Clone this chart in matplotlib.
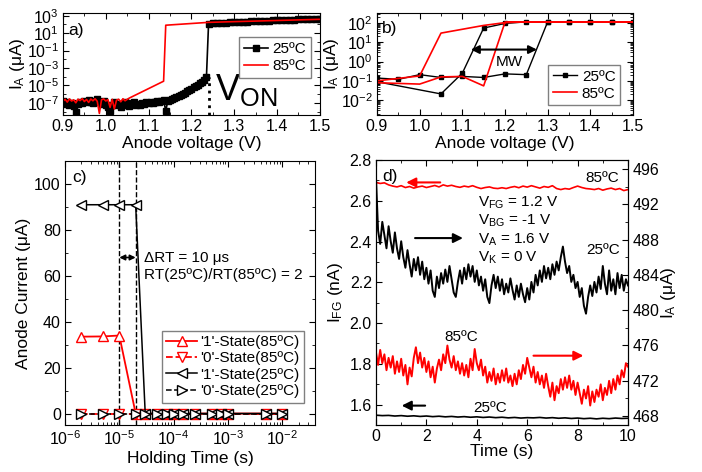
import numpy as np
import matplotlib
matplotlib.use('Agg')
import matplotlib.pyplot as plt
from matplotlib.ticker import MultipleLocator, FixedLocator, LogLocator, NullFormatter

plt.rcParams['font.family'] = ['Liberation Sans', 'DejaVu Sans']
plt.rcParams['mathtext.fontset'] = 'custom'
plt.rcParams['mathtext.rm'] = 'Liberation Sans'
plt.rcParams['mathtext.it'] = 'Liberation Sans:italic'
plt.rcParams['mathtext.default'] = 'regular'

# ---- a) DC sweep, I_A vs V_A (uA) ----
# 25C: off state (0.900 .. 1.235 V, 5 mV steps) then on state (1.24 .. 1.50 V, 10 mV steps)
ia25_off = [1.5e-7, 8e-8, 1.2e-7, 6e-8, 1.0e-7, 4e-8, 1e-8, 7e-8, 1.3e-7, 9e-8,
            1.8e-7, 1.1e-7, 2.2e-7, 1.4e-7, 9e-8, 1.6e-7, 2.5e-7, 1.2e-7, 7e-8, 1.5e-7,
            5e-8, 3e-8, 1.2e-8, 6e-8, 1.1e-7, 5e-8, 8e-8, 3e-8, 6e-8, 1.4e-7,
            9e-8, 4e-8, 7e-8, 1.1e-7, 5e-8, 8e-8, 6e-8, 1.0e-7, 7e-8, 1.2e-7,
            9e-8, 1.4e-7, 1.0e-7, 1.3e-7, 1.8e-7, 1.2e-7, 1.6e-7, 2e-7, 1.2e-8, 1.8e-7,
            2.2e-7, 2.8e-7, 3.5e-7, 4.5e-7, 6e-7, 8e-7, 1.1e-6, 1.5e-6, 2.1e-6, 3e-6,
            4.2e-6, 6e-6, 8.5e-6, 1.2e-5, 1.8e-5, 2.7e-5, 4.5e-5, 8e-5]
ia25_on = [120, 130, 138, 146, 155, 165, 175, 185, 195, 205, 215, 228, 240, 252,
           265, 278, 292, 305, 320, 335, 350, 365, 380, 400, 420, 440, 460]
va25_off = np.linspace(0.900, 1.235, len(ia25_off))
va25_on = np.linspace(1.24, 1.50, len(ia25_on))

# 85C: noisy off state up to 1.055 V, then a few measured points
ia85_off = [1.5e-7, 2.5e-7, 1.2e-7, 2.8e-7, 1.6e-7, 2.2e-7, 1.0e-7, 2.6e-7, 1.8e-7, 3.0e-7,
            1.4e-7, 2.4e-7, 1.1e-7, 2.7e-7, 1.7e-7, 2.9e-7, 1.5e-7, 6e-9, 2.2e-7, 2.8e-7,
            1.6e-7, 2.3e-7, 3e-8, 2.5e-7, 2e-8, 2.0e-7, 2.6e-7, 1.3e-7, 2.9e-7, 1.7e-7,
            2.5e-7, 3.5e-7]
va85_off = np.linspace(0.900, 1.055, len(ia85_off))
va85_on = [1.135, 1.14, 1.24, 1.50]
ia85_on = [3e-5, 80, 170, 380]
v_on = 1.24

# ---- b) hysteresis sweeps (uA) ----
vb25 = [0.9, 0.95, 1.0, 1.05, 1.1, 1.15, 1.2, 1.25, 1.3, 1.35, 1.4, 1.45, 1.5,
        1.45, 1.4, 1.35, 1.3, 1.25, 1.2, 1.15, 1.1, 1.05, 0.9]
ib25 = [0.14, 0.12, 0.21, 0.15, 0.17, 0.15, 0.23, 0.21, 115, 115, 115, 115, 115,
        115, 115, 115, 115, 115, 95, 55, 0.25, 0.021, 0.09]
vb85 = [0.9, 1.0, 1.05, 1.1, 1.15, 1.2, 1.25, 1.3, 1.35, 1.4, 1.45, 1.5,
        1.45, 1.4, 1.35, 1.3, 1.25, 1.2, 1.15, 1.05, 1.0, 0.9]
ib85 = [0.08, 0.068, 0.16, 0.17, 0.055, 110, 115, 115, 115, 115, 115, 115,
        115, 115, 115, 115, 115, 105, 75, 30, 0.18, 0.1]

# ---- c) retention vs holding time ----
hold_t = [2e-6, 5e-6, 1e-5, 2e-5, 3e-5, 5e-5, 7.5e-5, 1e-4, 1.5e-4, 2.5e-4,
          5e-4, 7.5e-4, 1e-3, 5e-3, 1e-2]
one_85 = [33.5, 33.6, 34, 0, 0, 0, 0, 0, 0, 0, 0, 0, 0, 0, 0]
zero_85 = [0, 0, 0, 0, 0, 0, 0, 0, 0, 0, 0, 0, 0, 0, 0]
one_25 = [91, 91, 91, 91, 0, 0, 0, 0, 0, 0, 0, 0, 0, 0, 0]
zero_25 = [0, 0, 0, 0, 0, 0, 0, 0, 0, 0, 0, 0, 0, 0, 0]
rt_marks = [1e-5, 2e-5]

# ---- d) stability vs time ----
ia25_t = [495.0, 489.0, 487.5, 490.0, 488.5, 487.0, 489.5, 487.8, 486.5, 488.8,
          487.0, 485.8, 487.8, 486.0, 484.8, 486.8, 485.2, 483.8, 485.8, 484.5,
          486.0, 484.0, 485.5, 483.5, 484.8, 483.0, 484.5, 482.2, 481.5, 483.8,
          482.5, 484.2, 483.0, 484.6, 483.2, 485.0, 483.5, 482.0, 481.5, 483.2,
          484.5, 483.0, 484.8, 483.5, 485.2, 483.8, 485.0, 483.2, 484.5, 482.8,
          483.8, 482.2, 483.5, 481.5, 480.8, 482.8, 484.0, 482.5, 483.8, 482.2,
          483.5, 481.8, 483.0, 482.0, 483.6, 482.3, 481.2, 482.8, 481.5, 483.0,
          481.8, 480.9, 482.5, 481.2, 483.2, 482.0, 484.0, 482.8, 484.5, 483.2,
          485.0, 483.6, 484.8, 483.5, 485.2, 484.0, 485.5, 484.5, 486.0, 487.2,
          485.5, 484.2, 485.0, 483.2, 484.0, 482.5, 483.2, 481.5, 482.5, 480.5,
          479.6, 481.5, 482.8, 481.6, 483.2, 482.0, 483.8, 482.4, 485.0, 483.0,
          481.8, 484.5, 482.2, 483.5, 481.8, 484.2, 482.5, 484.0, 482.2, 483.5,
          482.8]
ia85_t = [475.2, 473.8, 475.5, 474.0, 475.0, 473.2, 474.6, 473.5, 474.8, 472.8,
          474.2, 473.0, 474.5, 472.6, 473.8, 471.6, 473.5, 472.5, 474.6, 475.8,
          474.0, 475.2, 473.5, 474.6, 473.0, 474.2, 472.4, 473.6, 471.8, 473.4,
          474.4, 473.2, 475.0, 474.0, 476.0, 474.4, 473.5, 474.8, 473.2, 474.2,
          472.8, 474.0, 472.6, 473.8, 472.4, 474.5, 473.2, 475.6, 474.0, 473.2,
          474.4, 472.6, 473.6, 471.8, 473.0, 472.0, 473.4, 471.6, 472.8, 471.8,
          473.2, 472.0, 473.4, 471.8, 472.6, 471.4, 472.8, 471.6, 473.2, 472.2,
          473.8, 472.8, 474.6, 473.5, 472.4, 473.6, 471.8, 473.0, 471.6, 472.6,
          471.2, 472.8, 471.4, 470.2, 471.8, 469.8, 471.4, 470.6, 472.2, 471.0,
          472.4, 471.2, 472.6, 471.0, 472.0, 470.4, 471.8, 470.6, 469.4, 471.0,
          470.0, 471.4, 469.2, 470.8, 469.6, 471.0, 470.2, 471.6, 469.8, 471.2,
          470.4, 472.0, 470.6, 472.2, 471.0, 472.6, 471.6, 473.2, 472.4, 474.0,
          473.6]
ifg85_t = [2.690, 2.685, 2.688, 2.678, 2.672, 2.668, 2.674, 2.665, 2.670, 2.662,
           2.668, 2.672, 2.665, 2.670, 2.675, 2.668, 2.678, 2.672, 2.676, 2.670,
           2.666, 2.672, 2.668, 2.674, 2.666, 2.660, 2.665, 2.668, 2.662, 2.660,
           2.664, 2.660, 2.666, 2.670, 2.664, 2.672, 2.667, 2.674, 2.668, 2.662,
           2.670, 2.666, 2.674, 2.660, 2.655, 2.660, 2.657, 2.665, 2.672, 2.665,
           2.660, 2.658, 2.655, 2.660, 2.652, 2.658, 2.662, 2.655, 2.660, 2.650,
           2.655]
ifg25_t = [1.548, 1.546, 1.547, 1.544, 1.546, 1.543, 1.545, 1.542, 1.544, 1.541,
           1.543, 1.540, 1.542, 1.539, 1.541, 1.538, 1.540, 1.537, 1.539, 1.536,
           1.538, 1.535, 1.537, 1.534, 1.536, 1.535, 1.537, 1.534, 1.536, 1.533,
           1.535, 1.532, 1.534, 1.531, 1.533, 1.530, 1.533, 1.531, 1.534, 1.532,
           1.533]
bias_lines = ['V$_{FG}$ = 1.2 V', 'V$_{BG}$ = -1 V', 'V$_{A}$ = 1.6 V', 'V$_{K}$ = 0 V']

TICK_FS = 11.5
LABEL_FS = 12.5
LEG_FS = 11


def style_ticks(ax, right=True):
    ax.tick_params(which='both', direction='in', top=True, right=right,
                   labelsize=TICK_FS, pad=3)
    ax.tick_params(which='major', length=4, width=0.8)
    ax.tick_params(which='minor', length=2, width=0.6)


fig = plt.figure(figsize=(7.02, 4.72), dpi=100)

# ---------------- a) ----------------
ax_a = fig.add_axes([0.0897, 0.7564, 0.366, 0.216])
ax_a.plot(np.concatenate([va25_off, va25_on]), ia25_off + ia25_on, '-s', color='black',
          lw=1.2, ms=5, label='25ºC')
ax_a.plot(list(va85_off) + va85_on, ia85_off + ia85_on, '-', color='red', lw=1.2, label='85ºC')
ax_a.plot([v_on, v_on], [4e-9, 1e-4], ':', color='black', lw=2)
ax_a.set_yscale('log')
ax_a.set_xlim(0.9, 1.5)
ax_a.set_ylim(4e-9, 2e3)
ax_a.xaxis.set_major_locator(MultipleLocator(0.1))
ax_a.xaxis.set_minor_locator(MultipleLocator(0.05))
ax_a.yaxis.set_major_locator(FixedLocator([1e-7, 1e-5, 1e-3, 1e-1, 1e1, 1e3]))
ax_a.yaxis.set_minor_locator(FixedLocator([1e-8, 1e-6, 1e-4, 1e-2, 1e0, 1e2]))
ax_a.yaxis.set_minor_formatter(NullFormatter())
ax_a.xaxis.set_major_formatter(matplotlib.ticker.FormatStrFormatter('%.1f'))
style_ticks(ax_a)
ax_a.set_xlabel('Anode voltage (V)', fontsize=LABEL_FS, labelpad=1)
ax_a.set_ylabel('I$_{A}$ (μA)', fontsize=LABEL_FS, labelpad=0)
ax_a.text(0.02, 0.9, 'a)', transform=ax_a.transAxes, fontsize=LABEL_FS, va='top')
ax_a.text(1.255, 2.2e-7, 'V$_{ON}$', fontsize=26, va='baseline')
ax_a.legend(loc='upper right', bbox_to_anchor=(0.965, 0.76), fontsize=LEG_FS,
            fancybox=False, edgecolor='gray', framealpha=1, handlelength=1.6,
            borderpad=0.3, labelspacing=0.2, handletextpad=0.3, borderaxespad=0)

# ---------------- b) ----------------
ax_b = fig.add_axes([0.537, 0.7564, 0.3647, 0.216])
ax_b.plot(vb25, ib25, '-s', color='black', lw=1, ms=3.5, label='25ºC')
ax_b.plot(vb85, ib85, '-', color='red', lw=1.2, label='85ºC')
ax_b.set_yscale('log')
ax_b.set_xlim(0.9, 1.5)
ax_b.set_ylim(1.7e-3, 3.3e2)
ax_b.xaxis.set_major_locator(MultipleLocator(0.1))
ax_b.xaxis.set_minor_locator(MultipleLocator(0.05))
ax_b.yaxis.set_major_locator(LogLocator(base=10, numticks=10))
ax_b.yaxis.set_minor_locator(LogLocator(base=10, subs=np.arange(2, 10), numticks=10))
ax_b.yaxis.set_minor_formatter(NullFormatter())
ax_b.xaxis.set_major_formatter(matplotlib.ticker.FormatStrFormatter('%.1f'))
style_ticks(ax_b)
ax_b.set_xlabel('Anode voltage (V)', fontsize=LABEL_FS, labelpad=1)
ax_b.set_ylabel('I$_{A}$ (μA)', fontsize=LABEL_FS, labelpad=0)
ax_b.text(0.02, 0.92, 'b)', transform=ax_b.transAxes, fontsize=LABEL_FS, va='top')
ax_b.annotate('', xy=(1.12, 4.2), xytext=(1.275, 4.2),
              arrowprops=dict(arrowstyle='<|-|>', color='black', lw=1.5,
                              mutation_scale=12, shrinkA=0, shrinkB=0))
ax_b.text(1.21, 1.0, 'MW', fontsize=LEG_FS, ha='center', va='center')
ax_b.legend(loc='upper right', bbox_to_anchor=(0.95, 0.49), fontsize=LEG_FS,
            fancybox=False, edgecolor='gray', framealpha=1, handlelength=1.6,
            borderpad=0.3, labelspacing=0.2, handletextpad=0.3, borderaxespad=0)

# ---------------- c) ----------------
ax_c = fig.add_axes([0.0926, 0.0996, 0.356, 0.559])
for t in rt_marks:
    ax_c.axvline(t, color='black', ls='--', lw=1, zorder=1)
mk = dict(ms=7, mfc='white', mew=1)
ax_c.plot(hold_t, one_85, '-^', color='red', lw=1.3, label="'1'-State(85ºC)", **mk)
ax_c.plot(hold_t, zero_85, '--v', color='red', lw=1.3, label="'0'-State(85ºC)", **mk)
ax_c.plot(hold_t, one_25, '-<', color='black', lw=1.1, label="'1'-State(25ºC)", **mk)
ax_c.plot(hold_t, zero_25, '-->', color='black', lw=1.1, label="'0'-State(25ºC)", **mk)
ax_c.set_xscale('log')
ax_c.set_xlim(1e-6, 4e-2)
ax_c.set_ylim(-5, 110)
ax_c.xaxis.set_major_locator(LogLocator(base=10, numticks=10))
ax_c.xaxis.set_minor_locator(LogLocator(base=10, subs=np.arange(2, 10), numticks=10))
ax_c.xaxis.set_minor_formatter(NullFormatter())
ax_c.yaxis.set_major_locator(MultipleLocator(20))
ax_c.yaxis.set_minor_locator(MultipleLocator(10))
style_ticks(ax_c)
ax_c.set_xlabel('Holding Time (s)', fontsize=LABEL_FS, labelpad=2)
ax_c.set_ylabel('Anode Current (μA)', fontsize=LABEL_FS, labelpad=2)
ax_c.text(0.03, 0.965, 'c)', transform=ax_c.transAxes, fontsize=LABEL_FS, va='top')
ax_c.annotate('', xy=(rt_marks[0], 68), xytext=(rt_marks[1], 68),
              arrowprops=dict(arrowstyle='<|-|>', color='black', lw=1.2,
                              mutation_scale=8, shrinkA=0, shrinkB=0))
ax_c.text(2.8e-5, 68, 'ΔRT = 10 μs', fontsize=LEG_FS, va='center')
ax_c.text(2.8e-5, 60.4, 'RT(25ºC)/RT(85ºC) = 2', fontsize=LEG_FS, va='center')
ax_c.legend(loc='lower right', bbox_to_anchor=(0.955, 0.085), fontsize=LEG_FS,
            fancybox=False, edgecolor='gray', framealpha=1, handlelength=2.0,
            borderpad=0.3, labelspacing=0.15, handletextpad=0.2, borderaxespad=0)

# ---------------- d) ----------------
ax_d = fig.add_axes([0.5356, 0.0996, 0.359, 0.5614])
ax_d2 = ax_d.twinx()
ax_d.plot(np.linspace(0, 10, len(ifg85_t)), ifg85_t, color='red', lw=1.2)
ax_d.plot(np.linspace(0, 10, len(ifg25_t)), ifg25_t, color='black', lw=1.2)
ax_d2.plot(np.linspace(0, 10, len(ia25_t)), ia25_t, color='black', lw=1.4)
ax_d2.plot(np.linspace(0, 10, len(ia85_t)), ia85_t, color='red', lw=1.4)
ax_d.set_xlim(0, 10)
ax_d.set_ylim(1.5, 2.8)
ax_d2.set_ylim(467, 497)
ax_d.xaxis.set_major_locator(MultipleLocator(2))
ax_d.xaxis.set_minor_locator(MultipleLocator(1))
ax_d.yaxis.set_major_locator(MultipleLocator(0.2))
ax_d.yaxis.set_minor_locator(MultipleLocator(0.1))
ax_d2.yaxis.set_major_locator(MultipleLocator(4))
ax_d2.yaxis.set_minor_locator(MultipleLocator(2))
ax_d.yaxis.set_major_formatter(matplotlib.ticker.FormatStrFormatter('%.1f'))
style_ticks(ax_d, right=False)
ax_d2.tick_params(which='both', direction='in', labelsize=TICK_FS, pad=3)
ax_d2.tick_params(which='major', length=4, width=0.8)
ax_d2.tick_params(which='minor', length=2, width=0.6)
ax_d.set_xlabel('Time (s)', fontsize=LABEL_FS, labelpad=0)
ax_d.set_ylabel('I$_{FG}$ (nA)', fontsize=LABEL_FS, labelpad=3)
ax_d2.set_ylabel('I$_{A}$ (μA)', fontsize=LABEL_FS, labelpad=0)
ax_d.text(0.025, 0.965, 'd)', transform=ax_d.transAxes, fontsize=LABEL_FS, va='top')

arrow = dict(arrowstyle='-|>', lw=1.5, mutation_scale=14, shrinkA=0, shrinkB=0)
ax_d.annotate('', xy=(1.2, 2.69), xytext=(2.55, 2.69), arrowprops=dict(arrow, color='red'))
ax_d.annotate('', xy=(3.45, 2.417), xytext=(1.55, 2.417), arrowprops=dict(arrow, color='black'))
ax_d.annotate('', xy=(8.23, 1.84), xytext=(6.25, 1.84), arrowprops=dict(arrow, color='red'))
ax_d.annotate('', xy=(1.02, 1.595), xytext=(1.95, 1.595), arrowprops=dict(arrow, color='black'))

for i, s in enumerate(bias_lines):
    ax_d.text(4.05, 2.59 - 0.09 * i, s, fontsize=LEG_FS, va='center')
ax_d.text(8.96, 2.71, '85ºC', fontsize=LEG_FS, ha='center', va='center')
ax_d.text(9.02, 2.36, '25ºC', fontsize=LEG_FS, ha='center', va='center')
ax_d.text(3.4, 1.934, '85ºC', fontsize=LEG_FS, ha='center', va='center')
ax_d.text(4.52, 1.583, '25ºC', fontsize=LEG_FS, ha='center', va='center')

fig.savefig('out.png', dpi=100)
